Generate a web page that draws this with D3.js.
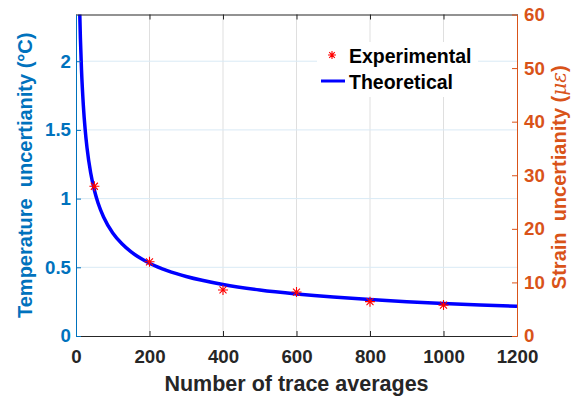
<!DOCTYPE html>
<html><head><meta charset="utf-8">
<script src="https://cdn.jsdelivr.net/npm/d3@7"></script>
<style>body{margin:0;background:#fff}svg{display:block;font-family:"Liberation Sans",Arial,sans-serif;font-weight:bold}</style>
</head><body><svg id="c" width="586" height="398"></svg>
<script>
const xTicks=[0,200,400,600,800,1000,1200];
const leftTicks=[0,0.5,1,1.5,2];
const rightTicks=[0,10,20,30,40,50,60];
const expN=[50,200,400,600,800,1000];
const expT=[1.09,0.54,0.335,0.32,0.25,0.225];
const theoN=[10,12,15,20,25,30,40,50,60,75,100,125,150,200,250,300,400,500,600,700,800,900,1000,1100,1200];
const theoT=[2.372,2.165,1.936,1.677,1.50,1.369,1.186,1.061,0.968,0.866,0.75,0.671,0.612,0.530,0.474,0.433,0.375,0.335,0.306,0.283,0.265,0.25,0.237,0.226,0.217];
const legendLabels=["Experimental","Theoretical"];

const L=76,R=517,T=14.5,B=336;
const svg=d3.select("#c");
const x=d3.scaleLinear().domain([0,1200]).range([L,R]);
const yL=d3.scaleLinear().domain([0,2.34]).range([B,T]);
const yR=d3.scaleLinear().domain([0,60]).range([B,T]);
const blue="#0072BD",orange="#D95319",dark="#262626";
const tickFS="18.7px";

// grid
svg.append("g").selectAll("line").data(xTicks.slice(1,-1)).join("line")
 .attr("x1",d=>x(d)).attr("x2",d=>x(d)).attr("y1",T).attr("y2",B)
 .attr("stroke","#dfdfdf").attr("stroke-width",1);
svg.append("g").selectAll("line").data(leftTicks.slice(1)).join("line")
 .attr("x1",L).attr("x2",R).attr("y1",d=>yL(d)).attr("y2",d=>yL(d))
 .attr("stroke","#d9eaf5").attr("stroke-width",1);

// clip
svg.append("clipPath").attr("id","clip").append("rect").attr("x",L).attr("y",T).attr("width",R-L).attr("height",B-T);

// theoretical line
svg.append("path").datum(theoN.map((n,i)=>[n,theoT[i]]))
 .attr("clip-path","url(#clip)")
 .attr("d",d3.line().x(d=>x(d[0])).y(d=>yL(d[1])).curve(d3.curveMonotoneX))
 .attr("fill","none").attr("stroke","#0000ff").attr("stroke-width",3.5);

// stars
function star(g,cx,cy,r){
 const p=`M${cx-r},${cy}L${cx+r},${cy}M${cx},${cy-r}L${cx},${cy+r}`+
  `M${cx-r*0.7},${cy-r*0.7}L${cx+r*0.7},${cy+r*0.7}M${cx-r*0.7},${cy+r*0.7}L${cx+r*0.7},${cy-r*0.7}`;
 g.append("path").attr("d",p).attr("stroke","#ff0000").attr("stroke-width",1.1).attr("fill","none");
}
const sg=svg.append("g");
expN.forEach((n,i)=>star(sg,x(n),yL(expT[i]),5));

// axes
const bx=svg.append("g").attr("transform",`translate(0,${B})`)
 .call(d3.axisBottom(x).tickValues(xTicks).tickFormat(d3.format("d")).tickSizeInner(-5).tickSizeOuter(0).tickPadding(14));
const tx=svg.append("g").attr("transform",`translate(0,${T})`)
 .call(d3.axisTop(x).tickValues(xTicks).tickSizeInner(-5).tickSizeOuter(0).tickFormat(""));
[bx,tx].forEach(g=>{g.selectAll("path,line").attr("stroke",dark);g.select(".domain").attr("stroke-width",1.2);});
bx.selectAll("text").attr("fill",dark).style("font-size",tickFS).style("font-family","inherit").style("font-weight","bold");

const ly=svg.append("g").attr("transform",`translate(${L},0)`)
 .call(d3.axisLeft(yL).tickValues(leftTicks).tickFormat(d3.format("~g")).tickSizeInner(-5).tickSizeOuter(0).tickPadding(5));
ly.selectAll("path,line").attr("stroke",blue);
ly.selectAll("text").attr("fill",blue).style("font-size",tickFS).style("font-family","inherit").style("font-weight","bold");

const ry=svg.append("g").attr("transform",`translate(${R},0)`)
 .call(d3.axisRight(yR).tickValues(rightTicks).tickSizeInner(-5).tickSizeOuter(0).tickPadding(7));
ry.selectAll("path,line").attr("stroke",orange);
ry.selectAll("text").attr("fill",orange).style("font-size",tickFS).style("font-family","inherit").style("font-weight","bold");

// labels
svg.append("text").attr("x",(L+R)/2).attr("y",391).attr("text-anchor","middle")
 .attr("fill",dark).style("font-size","21.5px").text("Number of trace averages");
svg.append("text").attr("transform",`translate(32,${(T+B)/2}) rotate(-90)`).attr("text-anchor","middle")
 .attr("fill",blue).style("font-size","20px").style("white-space","pre").text("Temperature  uncertianity (°C)");
const rl=svg.append("text").attr("transform",`translate(566,${(T+B)/2+2}) rotate(-90)`).attr("text-anchor","middle")
 .attr("fill",orange).style("font-size","20px").style("white-space","pre");
rl.append("tspan").text("Strain  uncertianity (");
rl.append("tspan").style("font-style","italic").style("font-weight","normal").style("font-family","'DejaVu Serif',serif").text("με");
rl.append("tspan").text(")");

// legend
const lg=svg.append("g");
lg.append("rect").attr("x",317).attr("y",42).attr("width",161).attr("height",55).attr("fill","#fff");
star(lg,332,55,4);
lg.append("line").attr("x1",321).attr("x2",345).attr("y1",81).attr("y2",81).attr("stroke","#0000ff").attr("stroke-width",3);
lg.selectAll("text.lt").data(legendLabels).join("text").attr("class","lt")
 .attr("x",349).attr("y",(d,i)=>62.5+i*26.5).attr("fill","#000").style("font-size","19.5px").text(d=>d);
</script></body></html>
